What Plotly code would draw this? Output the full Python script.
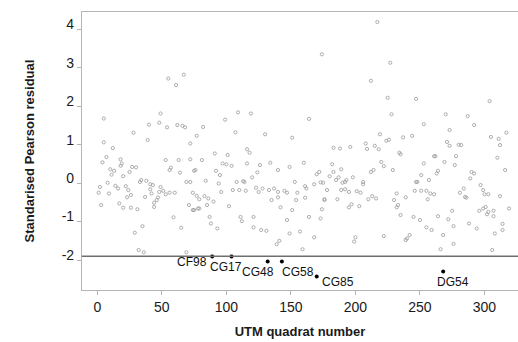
import plotly.graph_objects as go

# Grey residual points (quadrat number, standardised Pearson residual)
quadrat = [
    5, 55, 61, 67, 49, 40, 48, 54, 62, 66, 68, 28, 39,
    174, 109, 119, 99, 164, 82, 107, 130, 77, 151,
    217, 227, 212, 225, 247, 304, 228, 270, 287, 253, 273, 292, 219, 237, 244, 305, 317, 311,
    5, 12, 4, 7, 10, 13, 11, 2, 1, 8, 14, 16, 9, 3, 17, 19, 18, 18, 20, 25, 22, 24, 23, 20, 26, 26,
    27, 30, 31, 29, 35, 32, 36, 33, 34, 38, 37, 41, 43, 41, 42, 44, 44, 47, 48, 49, 46, 51, 53, 53,
    56, 57, 59, 56, 60, 63, 64, 65, 69, 69, 71, 74, 76, 72, 79, 79,
    72, 81, 91, 101, 97, 100, 104, 116, 118, 116, 126, 134, 140, 149, 124, 120, 75, 72, 84, 92, 95,
    94, 108, 113, 114, 105, 110, 115, 123, 125, 128, 133, 137, 145, 147, 140, 155, 161, 162, 168,
    173, 170, 172, 160, 153, 74, 77, 83, 86, 90, 75, 78, 85, 96, 102, 87, 88, 93, 111, 112, 121,
    121, 127, 131, 135, 140, 142, 147, 149, 157, 154, 161, 164, 168, 139, 141, 159, 174, 176, 151,
    183, 188, 196, 208, 209, 215, 218, 224, 226, 234, 235, 271, 273, 280, 282, 312, 310, 278, 182,
    183, 189, 180, 185, 187, 190, 193, 198, 192, 175, 178, 176, 186, 189, 192, 195, 201, 204, 206,
    206, 212, 214, 220, 222, 229, 213, 216, 210, 195, 197, 203, 173, 232, 230, 239, 233, 232, 235,
    245, 250, 255, 259, 264, 268, 272, 275, 276, 288, 294, 302, 308, 314, 314, 240, 242, 239, 200,
    199, 222, 266, 276, 306, 246, 247, 248, 251, 255, 258, 261, 256, 251, 257, 253, 261, 262, 263,
    269, 277, 264, 281, 284, 285, 286, 289, 290, 292, 297, 299, 300, 303, 312, 296, 299, 301, 303,
    307, 307, 319, 316,
]
residual = [
    1.68, 2.72, 2.55, 2.82, 1.81, 1.52, 1.57, 1.45, 1.51, 1.49, 1.45, 1.31, 1.12,
    3.35, 1.84, 1.81, 1.65, 1.67, 1.46, 1.32, 1.27, 1.23, 1.18,
    4.19, 3.13, 2.66, 2.22, 2.19, 2.13, 1.79, 1.79, 1.74, 1.53, 1.38, 1.51, 1.27, 1.19, 1.23, 1.20, 1.31, 1.15,
    1.06, 0.91, 0.54, 0.68, 0.36, 0.32, 0.22, -0.10, -0.25, 0.01, -0.07, -0.14, -0.27, -0.57, -0.53, 0.51, 0.62, 0.45, 0.18, 0.29, -0.08, -0.18, -0.37, -0.64, -0.64, -0.31,
    0.42, 0.41, -0.68, -1.29, -1.12, -1.74, -1.80, 0.03, 0.08, 0.06, -0.36, -0.03, -0.05, -0.16, -0.27, -0.51, -0.62, -0.37, -0.23, -0.10, -0.44, -0.20, -0.29, 0.60,
    0.34, 0.40, -0.89, -0.25, -0.25, 0.60, 0.27, -1.16, 0.03, -1.80, -0.57, -0.70, 0.34, 1.03, -0.66, -0.42,
    0.62, 0.60, 0.77, 0.73, 0.51, 0.49, 0.45, 0.88, 0.79, 0.51, 0.47, 0.53, 0.34, 0.42, 0.28, 0.15, 0.32, 0.03, 0.06, 0.32, 0.21,
    -0.01, 0.03, 0.05, 0.03, -0.18, -0.18, -0.20, -0.12, -0.23, -0.14, -0.18, -0.14, -0.20, -0.25, -0.23, -0.25, -0.08, -0.14, -0.03,
    0.02, 0.23, 0.29, 0.53, 0.03, -0.25, -0.33, -0.34, -0.40, -0.48, -0.70, -0.66, -0.57, -0.23, -0.60, -0.88, -1.05, -1.18, -0.88, -0.99, -0.88,
    -1.15, -1.22, -1.24, -0.44, -0.37, -0.63, -0.96, -1.31, -1.26, -0.44, -0.38, -0.88, -1.41, -1.59, -1.50, -1.72, -0.68, -0.44, -0.70,
    0.92, 0.90, 0.94, 1.03, 0.89, 0.97, 0.88, 1.10, 1.13, 0.79, 0.75, 1.07, 0.97, 1.00, 0.99, 0.99, 0.66, 0.70, 0.49,
    0.29, 0.36, 0.18, 0.08, 0.15, 0.01, 0.08, 0.15, 0.03, 0.01, -0.18, -0.42, -0.42, -0.18, -0.16, -0.23, -0.21, -0.25, 0.03,
    -0.03, 0.29, 0.34, 0.55, 0.44, 0.34, -0.34, -0.40, -0.42, -0.63, -0.55, -0.60, -0.92, -0.27, -0.44, -0.37, -0.57, -0.63, -0.83,
    -0.88, -0.96, -1.15, -1.22, -0.86, -1.35, -0.94, -0.72, -1.12, -1.05, -1.18, -0.81, -1.31, -1.22, -1.06, -1.44, -1.35, -1.48, -1.41,
    -1.52, -1.38, -1.72, -1.58, -1.74, -0.20, 0.03, 0.03, -0.20, -0.20, -0.27, -0.29, -0.42, 0.21, 0.08, 0.51, 0.70, 0.70, 0.25,
    0.55, 0.47, 0.32, -0.25, -0.14, -0.36, -0.38, 0.12, 0.29, 0.25, -0.05, -0.18, -0.29, -0.29, -0.34, -0.72, -0.66, -0.62, -0.75,
    -0.72, -0.86, -0.66, 0.34,
]

# Labelled outlying quadrats
outlier_names = ["CF98", "CG17", "CG48", "CG58", "CG85", "DG54"]
outlier_quadrat = [89, 104, 132, 143, 170, 268]
outlier_residual = [-1.91, -1.91, -2.04, -2.04, -2.43, -2.30]

THRESHOLD = -1.9

x_ticks = [0, 50, 100, 150, 200, 250, 300]
y_ticks = [-2, -1, 0, 1, 2, 3, 4]

fig = go.Figure()
fig.add_trace(go.Scatter(
    x=quadrat, y=residual, mode="markers",
    marker=dict(symbol="circle-open", size=3.2, color="#9a9a9a", line=dict(width=0.8)),
    hoverinfo="skip", showlegend=False,
))
fig.add_trace(go.Scatter(
    x=outlier_quadrat, y=outlier_residual, mode="markers",
    marker=dict(symbol="circle", size=4, color="#000000"),
    showlegend=False,
))

label_shift = [(-20, -5), (-6, -10), (-10, -10), (16, -10), (21, -5), (10, -10)]
for name, xv, yv, (dx, dy) in zip(outlier_names, outlier_quadrat, outlier_residual, label_shift):
    fig.add_annotation(x=xv, y=yv, text=name, showarrow=False, xshift=dx, yshift=dy,
                       font=dict(family="Liberation Sans, Arial, sans-serif", size=12, color="#111"))

fig.add_shape(type="line", xref="paper", x0=0, x1=1, yref="y", y0=THRESHOLD, y1=THRESHOLD,
              line=dict(color="#6e6e6e", width=1.5))

axis_font = dict(family="Liberation Sans, Arial, sans-serif", size=14, color="#1a1a1a")
title_font = dict(family="Liberation Sans, Arial, sans-serif", size=13, color="#1a1a1a")

fig.update_layout(
    width=518, height=342,
    margin=dict(l=82, r=0, t=12, b=52),
    paper_bgcolor="white", plot_bgcolor="white",
    xaxis=dict(
        range=[-11.9, 326], tickvals=x_ticks, ticktext=[str(v) for v in x_ticks],
        showgrid=False, zeroline=False, showline=True, linecolor="#b5b5b5", linewidth=1.2,
        mirror=True, ticks="outside", ticklen=4, tickcolor="#b5b5b5",
        tickfont=axis_font,
        title=dict(text="<b>UTM quadrat number</b>", font=title_font, standoff=12),
    ),
    yaxis=dict(
        range=[-2.78, 4.45], tickvals=y_ticks, ticktext=[str(v) for v in y_ticks],
        showgrid=False, zeroline=False, showline=True, linecolor="#b5b5b5", linewidth=1.2,
        ticks="outside", ticklen=4, tickcolor="#b5b5b5",
        tickfont=axis_font, ticklabelshift=-5,
        title=dict(text="<b>Standarised Pearson residual</b>", font=title_font, standoff=24),
    ),
)

fig.write_html("out.html")
